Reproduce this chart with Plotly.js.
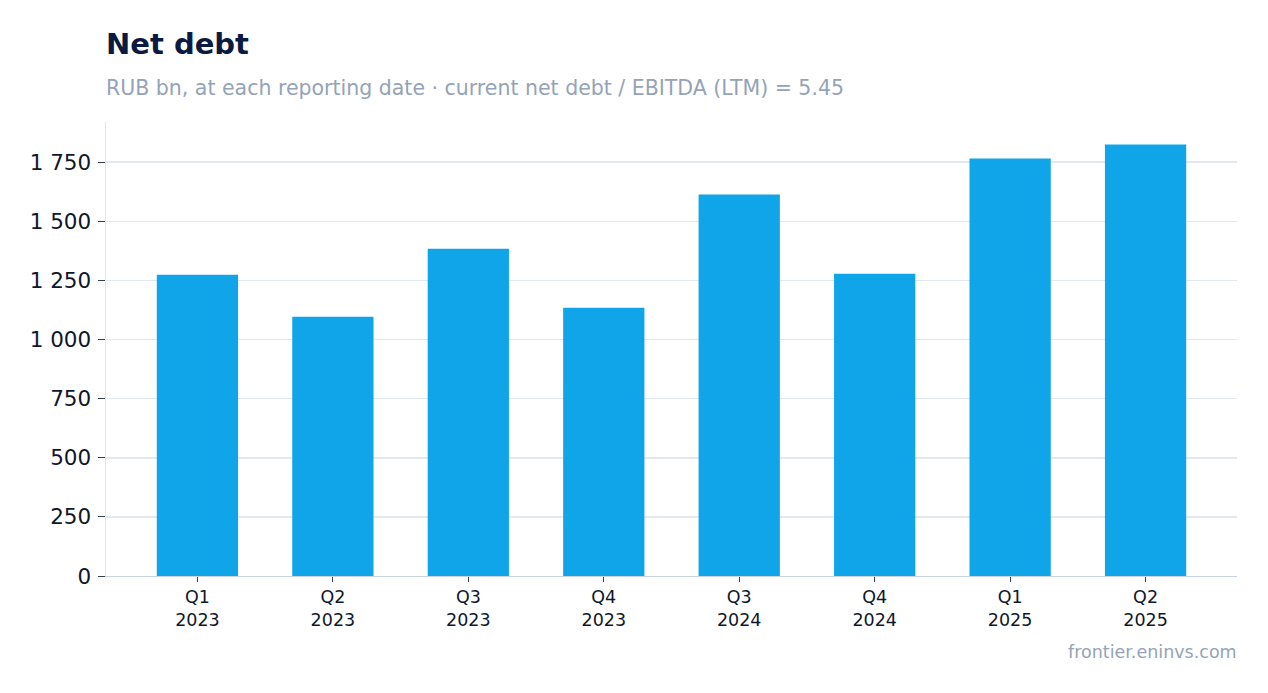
<!DOCTYPE html>
<html>
<head>
<meta charset="utf-8">
<script src="https://cdn.plot.ly/plotly-3.0.1.min.js"></script>
<style>
  html, body { margin: 0; padding: 0; background: #fff; }
  #chart { width: 1268px; height: 693px; }
</style>
</head>
<body>
<div id="chart"></div>
<script>
const quarters = ['Q1<br>2023', 'Q2<br>2023', 'Q3<br>2023', 'Q4<br>2023',
                  'Q3<br>2024', 'Q4<br>2024', 'Q1<br>2025', 'Q2<br>2025'];
const netDebt = [1274, 1096, 1384, 1134, 1613, 1278, 1766, 1825];
const yTicks = [0, 250, 500, 750, 1000, 1250, 1500, 1750];

const font = 'DejaVu Sans, sans-serif';

const trace = {
  x: quarters,
  y: netDebt,
  type: 'bar',
  width: 0.6,
  marker: {color: '#10a5e8'},
  hoverinfo: 'skip'
};

const layout = {
  width: 1268,
  height: 693,
  margin: {l: 106, r: 31, t: 122, b: 117},
  paper_bgcolor: '#ffffff',
  plot_bgcolor: '#ffffff',
  font: {family: font, color: '#0f172a'},
  separators: '. ',
  showlegend: false,
  title: {
    text: '<b>Net debt</b>',
    font: {family: font, size: 29, color: '#0b1a40'},
    x: 106 / 1268,
    xanchor: 'left',
    y: 1 - 44 / 693,
    yanchor: 'middle'
  },
  xaxis: {
    type: 'category',
    range: [-0.675, 7.675],
    showgrid: false,
    showline: true,
    linecolor: '#cbd5e1',
    linewidth: 1,
    ticks: 'outside',
    ticklen: 5,
    tickcolor: '#334155',
    tickfont: {family: font, size: 17.5, color: '#0f172a'},
    fixedrange: true
  },
  yaxis: {
    range: [0, 1920],
    tickvals: yTicks,
    tickformat: ',d',
    showgrid: true,
    gridcolor: '#e2e8f0',
    gridwidth: 1.5,
    showline: true,
    linecolor: '#e2e8f0',
    linewidth: 1.5,
    zeroline: false,
    ticks: 'outside',
    ticklen: 7,
    tickcolor: '#334155',
    ticklabelstandoff: 2,
    tickfont: {family: font, size: 21.5, color: '#0f172a'},
    fixedrange: true
  },
  annotations: [
    {
      text: 'RUB bn, at each reporting date · current net debt / EBITDA (LTM) = 5.45',
      xref: 'paper', yref: 'paper',
      x: 0, y: (576 - 88) / 454,
      xshift: -2,
      xanchor: 'left', yanchor: 'middle',
      showarrow: false,
      font: {family: font, size: 20.5, color: '#94a3b8'}
    },
    {
      text: 'frontier.eninvs.com',
      xref: 'paper', yref: 'paper',
      x: 1, y: (576 - 652) / 454,
      xshift: 2,
      xanchor: 'right', yanchor: 'middle',
      showarrow: false,
      font: {family: font, size: 17.5, color: '#94a3b8'}
    }
  ]
};

Plotly.newPlot('chart', [trace], layout, {staticPlot: true, displayModeBar: false});
</script>
</body>
</html>
